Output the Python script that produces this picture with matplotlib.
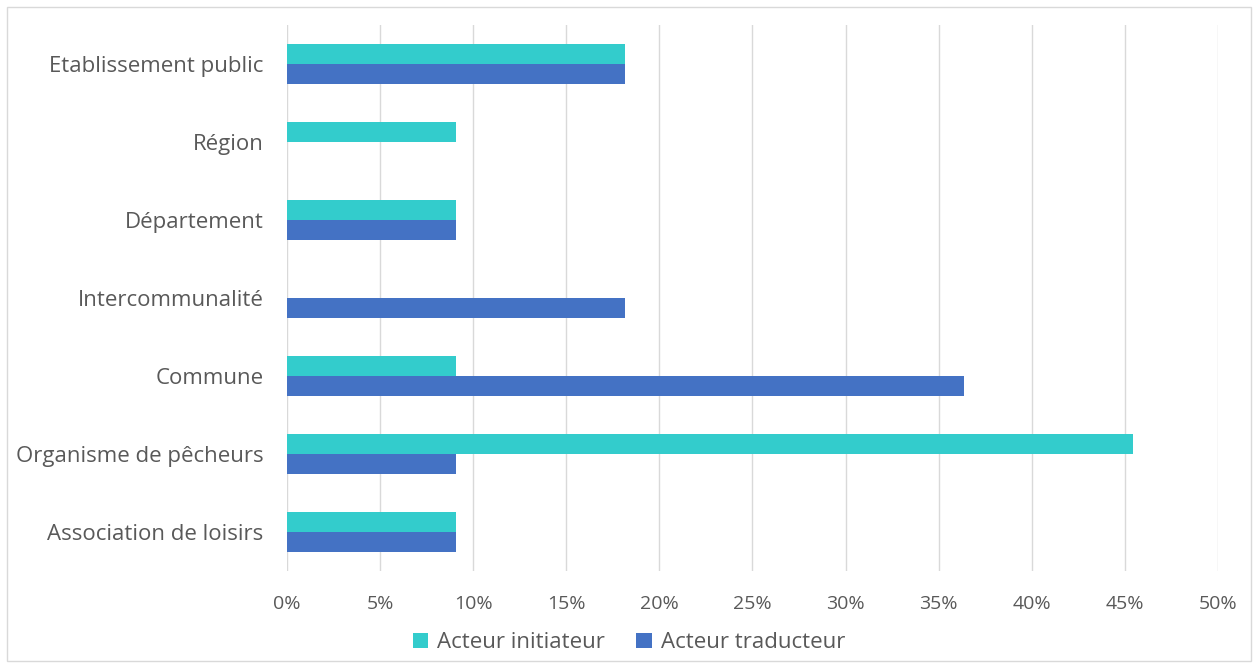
import matplotlib.pyplot as plt
from matplotlib.patches import Rectangle
from matplotlib.ticker import FuncFormatter

plt.rcParams['font.family'] = ['Open Sans', 'DejaVu Sans']

# categories from bottom to top
categories = ['Association de loisirs', 'Organisme de pêcheurs', 'Commune',
              'Intercommunalité', 'Département', 'Région', 'Etablissement public']
initiateur = [9.09, 45.45, 9.09, 0.0, 9.09, 9.09, 18.18]
traducteur = [9.09, 9.09, 36.36, 18.18, 9.09, 0.0, 18.18]
x_ticks = [0, 5, 10, 15, 20, 25, 30, 35, 40, 45, 50]

col_init = '#33CCCC'
col_trad = '#4472C4'
txt_col = '#595959'

fig = plt.figure(figsize=(12.58, 6.68), dpi=100)
ax = fig.add_axes([0.2281, 0.1452, 0.7401, 0.8174])

h = 0.26
pos = list(range(len(categories)))
ax.barh([p + h / 2 for p in pos], initiateur, height=h, color=col_init,
        label='Acteur initiateur', zorder=3)
ax.barh([p - h / 2 for p in pos], traducteur, height=h, color=col_trad,
        label='Acteur traducteur', zorder=3)

ax.set_xlim(0, 50)
ax.set_ylim(-0.5, len(categories) - 0.5)
ax.set_xticks(x_ticks)
ax.xaxis.set_major_formatter(FuncFormatter(lambda v, _: f'{v:.0f}%'))
ax.set_yticks(pos)
ax.set_yticklabels(categories)
ax.grid(axis='x', color='#D9D9D9', linewidth=1, zorder=0)
for s in ax.spines.values():
    s.set_visible(False)
ax.tick_params(axis='both', length=0, colors=txt_col, labelsize=14)
ax.tick_params(axis='y', pad=17, labelsize=16)
ax.tick_params(axis='x', pad=17)

leg = fig.legend(loc='center', bbox_to_anchor=(0.5, 0.038), ncol=2, frameon=False,
                 fontsize=16, handlelength=0.7, handleheight=0.7, columnspacing=1.4,
                 handletextpad=0.4, labelcolor=txt_col)

fig.patches.append(Rectangle((0.0056, 0.0105), 0.9888, 0.979, transform=fig.transFigure,
                             fill=False, edgecolor='#D9D9D9', linewidth=1))

fig.savefig('out.png', dpi=100)
